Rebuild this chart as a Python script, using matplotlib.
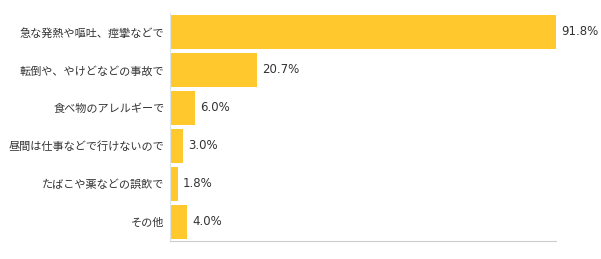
import matplotlib.pyplot as plt

plt.rcParams['font.family'] = ['Noto Sans CJK JP', 'DejaVu Sans']

# データ
categories = [
    "急な発熱や嘔吐、痙攣などで",
    "転倒や、やけどなどの事故で",
    "食べ物のアレルギーで",
    "昼間は仕事などで行けないので",
    "たばこや薬などの誤飲で",
    "その他",
]
values = [91.8, 20.7, 6.0, 3.0, 1.8, 4.0]

fig = plt.figure(figsize=(6.01, 2.59), dpi=100)
ax = fig.add_axes([0.283, 0.07, 0.642, 0.88])

pos = list(range(len(categories)))
bars = ax.barh(pos, values, height=0.9, color="#FFC92E")
ax.set_ylim(len(categories) - 0.5, -0.5)
ax.set_xlim(0, 91.8)

ax.set_yticks(pos)
ax.set_yticklabels(categories, fontsize=8.0, color="#333333")
ax.set_xticks([])
ax.tick_params(axis="y", length=0, pad=4)

for b, v in zip(bars, values):
    ax.text(b.get_width() + 1.2, b.get_y() + b.get_height() / 2, f"{v:.1f}%",
            va="center", ha="left", fontsize=8.5, color="#333333",
            family=["DejaVu Sans"], clip_on=False)

for s in ["top", "right"]:
    ax.spines[s].set_visible(False)
ax.spines["left"].set_color("#dde3ea")
ax.spines["bottom"].set_color("#cccccc")

plt.savefig("out.png", dpi=100)
